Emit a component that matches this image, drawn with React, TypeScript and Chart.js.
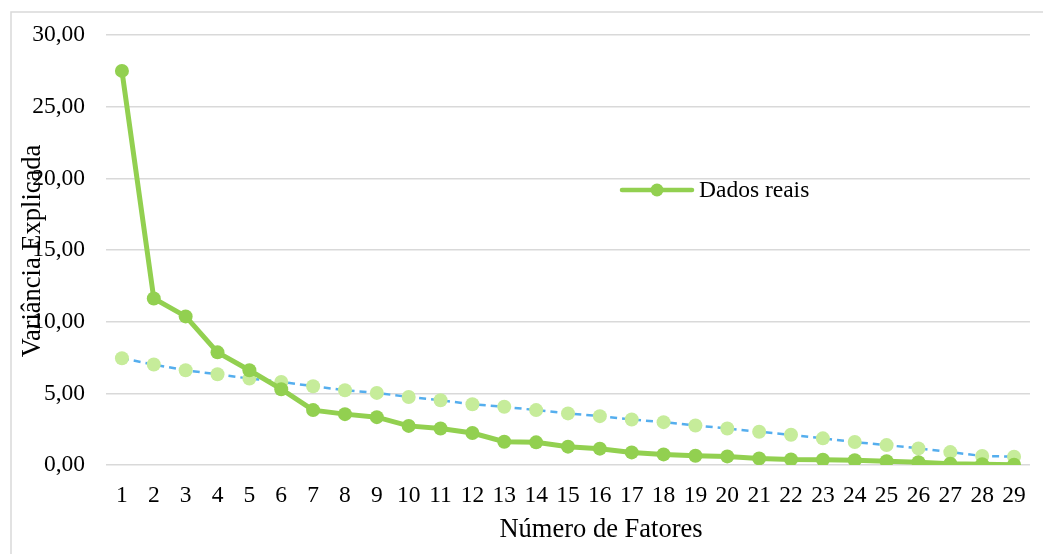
import React, { useEffect, useRef } from "react";
import { Chart, registerables } from "chart.js";

Chart.register(...registerables);

const categories = ["1","2","3","4","5","6","7","8","9","10","11","12","13","14","15","16","17","18","19","20","21","22","23","24","25","26","27","28","29"];
const dadosReais = [27.5, 11.62, 10.37, 7.86, 6.61, 5.29, 3.83, 3.55, 3.34, 2.73, 2.55, 2.23, 1.62, 1.58, 1.28, 1.14, 0.88, 0.74, 0.65, 0.6, 0.46, 0.39, 0.37, 0.33, 0.26, 0.19, 0.09, 0.05, 0.02];
const dadosAleatorios = [7.45, 7.01, 6.61, 6.33, 6.03, 5.8, 5.5, 5.22, 5.03, 4.75, 4.52, 4.24, 4.06, 3.83, 3.6, 3.41, 3.18, 2.99, 2.76, 2.55, 2.32, 2.11, 1.86, 1.6, 1.39, 1.16, 0.9, 0.63, 0.58];
const yTicks = [0, 5, 10, 15, 20, 25, 30];
const xTitle = "Número de Fatores";
const yTitle = "Variância Explicada";
const legendLabel = "Dados reais";

const FONT = "'Liberation Serif', 'Times New Roman', serif";
const GREEN = "#92D050";
const LIGHT_GREEN = "#C6EC9A";
const BLUE = "#55AEEE";

const decor = {
  id: "decor",
  beforeDraw(chart: any) {
    const ctx = chart.ctx;
    ctx.save();
    ctx.fillStyle = "#ffffff";
    ctx.fillRect(0, 0, chart.width, chart.height);
    ctx.strokeStyle = "#D9D9D9";
    ctx.lineWidth = 1.5;
    ctx.strokeRect(11, 12, chart.width + 10, chart.height + 10);
    ctx.restore();
  },
  afterDraw(chart: any) {
    const ctx = chart.ctx;
    ctx.save();
    ctx.fillStyle = "#000";
    ctx.font = `26.5px ${FONT}`;
    ctx.textAlign = "center";
    ctx.textBaseline = "alphabetic";
    ctx.fillText(xTitle, 601, 537);
    ctx.save();
    ctx.translate(40, 251);
    ctx.rotate(-Math.PI / 2);
    ctx.fillText(yTitle, 0, 0);
    ctx.restore();
    const ly = 190;
    ctx.strokeStyle = GREEN;
    ctx.lineWidth = 4.5;
    ctx.lineCap = "round";
    ctx.beginPath();
    ctx.moveTo(622, ly);
    ctx.lineTo(692, ly);
    ctx.stroke();
    ctx.fillStyle = GREEN;
    ctx.beginPath();
    ctx.arc(657, ly, 6.5, 0, Math.PI * 2);
    ctx.fill();
    ctx.fillStyle = "#000";
    ctx.font = `23.5px ${FONT}`;
    ctx.textAlign = "left";
    ctx.textBaseline = "middle";
    ctx.fillText(legendLabel, 699, ly + 1);
    ctx.restore();
  },
};

export default function App() {
  const ref = useRef<HTMLCanvasElement>(null);
  useEffect(() => {
    if (!ref.current) return;
    const chart = new Chart(ref.current, {
      type: "line",
      data: {
        labels: categories,
        datasets: [
          {
            label: "Dados aleatórios",
            data: dadosAleatorios,
            borderColor: BLUE,
            borderWidth: 2.5,
            borderDash: [7, 5],
            pointBackgroundColor: LIGHT_GREEN,
            pointBorderColor: LIGHT_GREEN,
            pointRadius: 7,
            pointBorderWidth: 0,
            tension: 0,
            order: 2,
          },
          {
            label: legendLabel,
            data: dadosReais,
            borderColor: GREEN,
            borderWidth: 5,
            pointBackgroundColor: GREEN,
            pointBorderColor: GREEN,
            pointRadius: 7,
            pointBorderWidth: 0,
            tension: 0,
            order: 1,
          },
        ],
      },
      options: {
        animation: false,
        responsive: false,
        layout: { padding: { left: 0, top: 34, right: 12, bottom: 0 } },
        plugins: { legend: { display: false }, tooltip: { enabled: false } },
        scales: {
          x: {
            offset: true,
            grid: { display: false, drawTicks: false },
            border: { display: false },
            ticks: { color: "#000", font: { family: FONT, size: 23.5 }, padding: 17, maxRotation: 0, autoSkip: false },
            afterFit: (s: any) => { s.height = 89; },
          },
          y: {
            min: 0,
            max: 30,
            afterBuildTicks: (s: any) => { s.ticks = yTicks.map((v) => ({ value: v })); },
            grid: { color: "#D9D9D9", lineWidth: 1.5, drawTicks: false },
            border: { display: false },
            ticks: {
              color: "#000",
              font: { family: FONT, size: 23.5 },
              padding: 21,
              callback: (v: any) => Number(v).toFixed(2).replace(".", ","),
            },
            afterFit: (s: any) => { s.width = 106; },
          },
        },
      },
      plugins: [decor],
    });
    return () => chart.destroy();
  }, []);
  return (
    <div style={{ position: "fixed", left: 0, top: 0, width: 1043, height: 554, background: "#fff" }}>
      <canvas ref={ref} width={1043} height={554} style={{ display: "block" }} />
    </div>
  );
}
